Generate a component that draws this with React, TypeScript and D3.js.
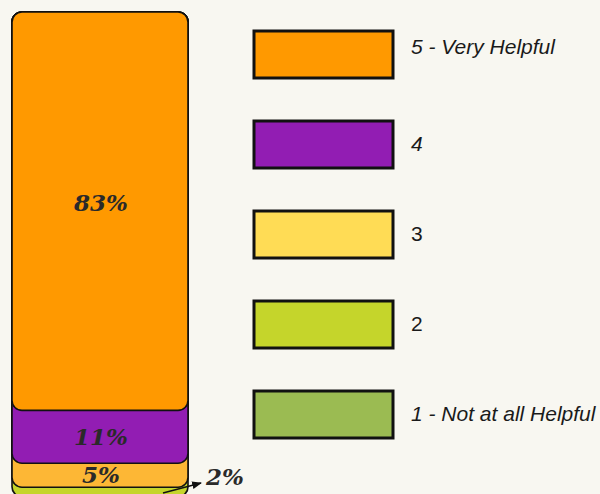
import React from 'react';
import * as d3 from 'd3';

// stacked bar, top to bottom
const segLabels = ['5', '4', '3', '2'];
const segValues = [83, 11, 5, 2];
const segColors = ['#ff9900', '#921db3', '#fdb735', '#c5d52b'];

// legend
const legendLabels = ['5 - Very Helpful', '4', '3', '2', '1 - Not at all Helpful'];
const legendItalic = [true, true, false, false, true];
const legendColors = ['#ff9900', '#921db3', '#ffdc55', '#c5d52b', '#9bbb52'];

const W = 600;
const H = 494;
const labelFont = "'DejaVu Serif', serif";

export default function App() {
  const barX = 12;
  const barW = 176;
  const barTop = 12;
  const y = d3.scaleLinear().domain([0, 100]).range([barTop, barTop + 480]);

  const cum = d3.cumsum(segValues);
  const segs = segValues.map((v, i) => ({
    key: segLabels[i],
    value: v,
    color: segColors[i],
    y0: y(cum[i] - v),
    y1: y(cum[i]),
  }));

  const legendY = d3.scalePoint<number>()
    .domain(d3.range(legendLabels.length))
    .range([30, 390]);

  const last = segs[segs.length - 1];

  return (
    <svg width={W} height={H} style={{ position: 'fixed', left: 0, top: 0, background: '#f8f7f1' }}>
      <defs>
        <marker id="arr" viewBox="0 0 10 10" refX="9" refY="5" markerWidth="7" markerHeight="7" orient="auto">
          <path d="M0,1 L10,5 L0,9 z" fill="#111" />
        </marker>
      </defs>
      <rect width={W} height={H} fill="#f8f7f1" />
      {/* bottom segment first so the upper ones overlap it */}
      {segs.slice().reverse().map(s => (
        <rect key={s.key} x={barX} y={barTop} width={barW} height={s.y1 - barTop}
          rx={10} fill={s.color} stroke="#111" strokeWidth={1.6} />
      ))}
      {segs.slice(0, 3).map(s => (
        <text key={'t' + s.key} x={barX + barW / 2 + 1}
          y={(s.y0 + s.y1) / 2 + (s.value > 20 ? 0 : 8)}
          textAnchor="middle" fontFamily={labelFont} fontWeight="bold"
          fontStyle="italic" fontSize={23} fill="#2a2a2a">
          {s.value}%
        </text>
      ))}
      <line x1={163} y1={(last.y0 + last.y1) / 2 + 1} x2={201} y2={483}
        stroke="#111" strokeWidth={1.4} markerEnd="url(#arr)" />
      <text x={206} y={485} fontFamily={labelFont} fontWeight="bold"
        fontStyle="italic" fontSize={23} fill="#2a2a2a">{last.value}%</text>

      {legendLabels.map((l, i) => (
        <g key={l} transform={`translate(0,${legendY(i)})`}>
          <rect x={254} y={1} width={139} height={47} fill={legendColors[i]} stroke="#111" strokeWidth={3} />
          <text x={411} y={i === 0 ? 17 : 24} dy="0.35em" fontFamily="'Liberation Sans', Arial, sans-serif"
            fontSize={21} fontStyle={legendItalic[i] ? 'italic' : 'normal'} fill="#1a1a1a">{l}</text>
        </g>
      ))}
    </svg>
  );
}
